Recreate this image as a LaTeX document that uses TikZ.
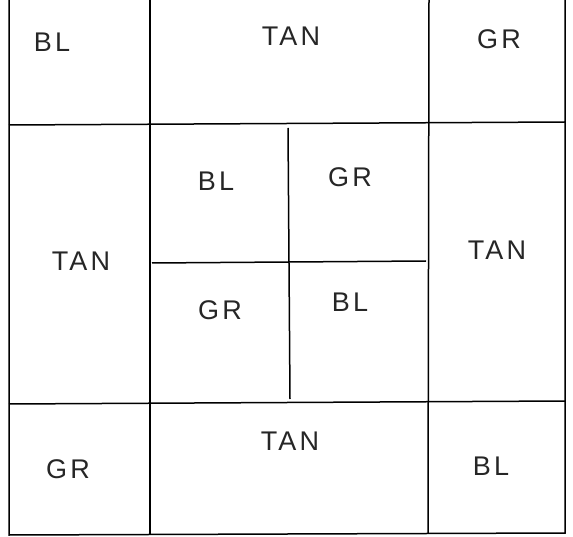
\documentclass[tikz,border=0pt]{standalone}
\usepackage{fontspec}
\setmainfont{Liberation Sans}[LetterSpace=12]
\usetikzlibrary{positioning}

\begin{document}
\begin{tikzpicture}[x=1pt, y=-1pt, line width=1.5pt,
    tile/.style={font=\fontsize{27}{31}\selectfont, text=black!85}]
\useasboundingbox (0,0) rectangle (573,537);

% Frame, open at the top
\draw (9,0) -- (9,535) -- (565,533) -- (565,0);

% Row lines
\draw (9,125) -- (565,122);
\draw (9,404) -- (565,401);

% Column lines
\draw (150,0) -- (150,535);
\draw (429,0) -- (428,533);

% Centre block
\draw (152,263) -- (426,261);
\draw (288,128) -- (290,399);

% Top row
\node[tile] (blA) at (52,42) {BL};
\node[tile] (tanA) at (291,36) {TAN};
\node[tile] (grA) at (499,39) {GR};

% Middle row
\node[tile] (tanB) at (81,261) {TAN};
\node[tile] (blB) at (216,181) {BL};
\node[tile] (grB) at (350,177) {GR};
\node[tile] (grC) at (220,310) {GR};
\node[tile] (blC) at (350,302) {BL};
\node[tile] (tanC) at (497,250) {TAN};

% Bottom row
\node[tile] (grD) at (68,469) {GR};
\node[tile] (tanD) at (290,441) {TAN};
\node[tile] (blD) at (491,466) {BL};
\end{tikzpicture}
\end{document}
